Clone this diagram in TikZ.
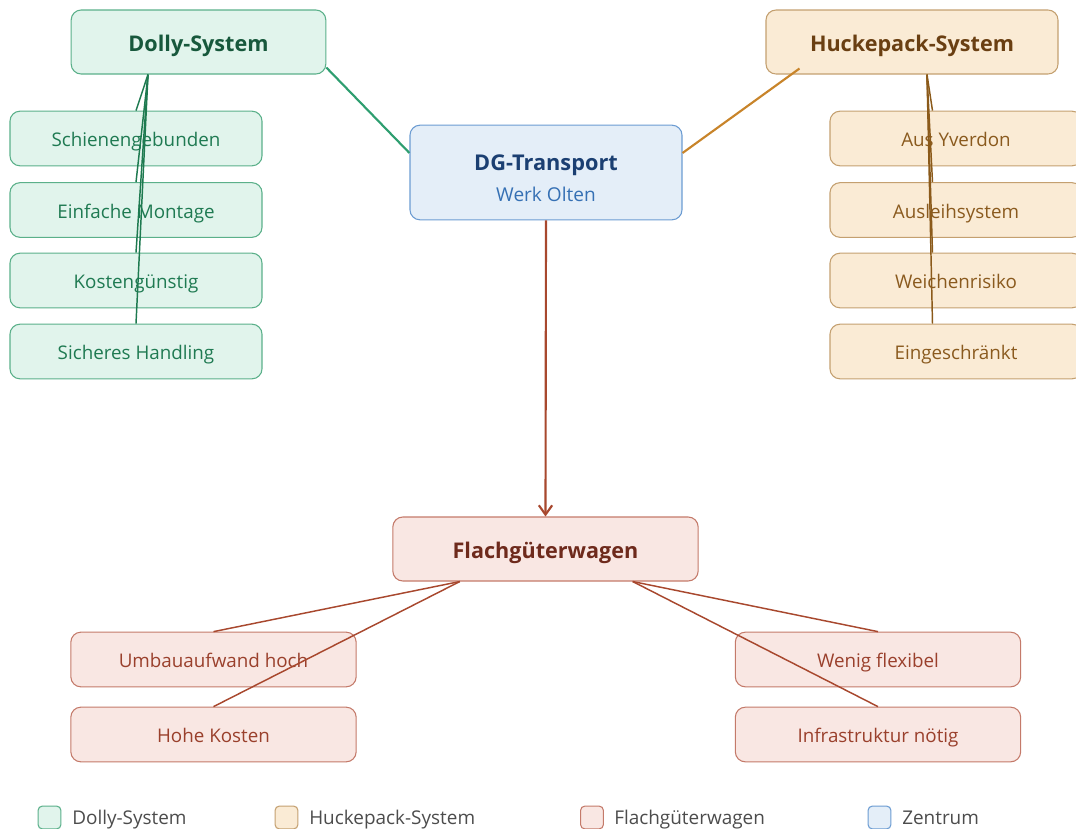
\documentclass[tikz,border=0pt]{standalone}
\usepackage{fontspec}
\setmainfont{Open Sans}
\usetikzlibrary{calc,arrows.meta}

% palette
\definecolor{dFill}{HTML}{E1F4EC}
\definecolor{dLine}{HTML}{5BB08A}
\definecolor{dText}{HTML}{1F7A52}
\definecolor{dTitle}{HTML}{17583C}
\definecolor{dEdge}{HTML}{2E9E70}
\definecolor{dSub}{HTML}{1E7A50}
\definecolor{hFill}{HTML}{FAEBD5}
\definecolor{hLine}{HTML}{C4A070}
\definecolor{hText}{HTML}{8A5A1E}
\definecolor{hTitle}{HTML}{6A3F12}
\definecolor{hEdge}{HTML}{C8842A}
\definecolor{hSub}{HTML}{8B5A1A}
\definecolor{fFill}{HTML}{F9E7E3}
\definecolor{fLine}{HTML}{C47A6A}
\definecolor{fText}{HTML}{9A402C}
\definecolor{fTitle}{HTML}{6E2A1C}
\definecolor{fEdge}{HTML}{A8482E}
\definecolor{cFill}{HTML}{E4EEF8}
\definecolor{cLine}{HTML}{6C9CD2}
\definecolor{cTitle}{HTML}{1B3F72}
\definecolor{cText}{HTML}{3570B4}

\tikzset{
  box/.style={rounded corners=7.5pt, line width=0.8pt, inner sep=0pt, align=center,
              text height=1.45em, text depth=0.2em},
  title/.style={box, minimum height=48pt, font=\bfseries\fontsize{16.2}{19}\selectfont,
              text height=1.6em},
  item/.style={box, minimum width=189pt, minimum height=41pt, font=\fontsize{14.1}{17}\selectfont},
  dolly/.style={fill=dFill, draw=dLine},
  hucke/.style={fill=hFill, draw=hLine},
  flach/.style={fill=fFill, draw=fLine},
  zentrum/.style={fill=cFill, draw=cLine},
  mainedge/.style={line width=1.6pt},
  subedge/.style={line width=1.1pt},
  swatch/.style={rounded corners=3pt, line width=0.8pt, minimum width=17pt, minimum height=17pt, inner sep=0pt},
  legendtext/.style={anchor=west, inner sep=0pt, font=\fontsize{14.2}{17}\selectfont, text=black!70,
              text height=1.15em, text depth=0.2em},
}

\begin{document}
\begin{tikzpicture}[x=0.75pt,y=-0.75pt]
\useasboundingbox (0,0) rectangle (1076,829);
\begin{scope}
\clip (0,0) rectangle (1076,829);

% centre
\node[box, zentrum, minimum width=204pt, minimum height=71pt, text height=46pt, text depth=3pt] (center) at (546,172.5)
  {{\bfseries\fontsize{16.3}{19}\selectfont\color{cTitle}DG-Transport}\\[7pt]
   {\fontsize{14.3}{17}\selectfont\color{cText}Werk Olten}};

% branch heads
\node[title, dolly, minimum width=191pt, text=dTitle] (dolly) at (198.5,42) {Dolly-System};
\node[title, hucke, minimum width=219pt, text=hTitle] (hucke) at (912,42) {Huckepack-System};
\node[title, flach, minimum width=229pt, text=fTitle] (flach) at (545.5,549) {Flachgüterwagen};

% Dolly items
\node[item, dolly, text=dText] (d1) at (136,138.5) {Schienengebunden};
\node[item, dolly, text=dText] (d2) at (136,210) {Einfache Montage};
\node[item, dolly, text=dText] (d3) at (136,280.5) {Kostengünstig};
\node[item, dolly, text=dText] (d4) at (136,351.5) {Sicheres Handling};

% Huckepack items
\node[item, hucke, text=hText] (h1) at (956,138.5) {Aus Yverdon};
\node[item, hucke, text=hText] (h2) at (956,210) {Ausleihsystem};
\node[item, hucke, text=hText] (h3) at (956,280.5) {Weichenrisiko};
\node[item, hucke, text=hText] (h4) at (956,351.5) {Eingeschränkt};

% Flachgüterwagen items
\node[item, flach, minimum width=214pt, text=fText] (f1) at (213.5,659.5) {Umbauaufwand hoch};
\node[item, flach, minimum width=214pt, text=fText] (f2) at (213.5,734.5) {Hohe Kosten};
\node[item, flach, minimum width=214pt, text=fText] (f3) at (878,659.5) {Wenig flexibel};
\node[item, flach, minimum width=214pt, text=fText] (f4) at (878,734.5) {Infrastruktur nötig};

% main edges
\draw[mainedge, dEdge] ($(dolly.south east)+(0,-7)$) -- ($(center.west)+(0,-19.5)$);
\draw[mainedge, hEdge] ($(hucke.south west)+(34,-6)$) -- ($(center.east)+(0,-19.5)$);
\draw[mainedge, fEdge, -{Straight Barb[length=7pt,width=10pt]}] (center.south) -- (flach.north);

% Dolly sub-edges
\foreach \n in {d1,d2,d3,d4}
  \draw[subedge, dSub] ($(dolly.south)+(-50.5,0)$) -- (\n.north -| 136,0);
% Huckepack sub-edges
\foreach \n in {h1,h2,h3,h4}
  \draw[subedge, hSub] ($(hucke.south)+(15,0)$) -- (\n.north -| 932.5,0);
% Flachgüterwagen sub-edges
\foreach \n in {f1,f2}
  \draw[subedge, fEdge] ($(flach.south west)+(67.5,0)$) -- (\n.north);
\foreach \n in {f3,f4}
  \draw[subedge, fEdge] ($(flach.south east)+(-66,0)$) -- (\n.north);

% legend
\node[swatch, dolly] (l1) at (49.5,817.5) {};
\node[legendtext] (t1) at (72,818) {Dolly-System};
\node[swatch, hucke] (l2) at (286.5,817.5) {};
\node[legendtext] (t2) at (309,818) {Huckepack-System};
\node[swatch, flach] (l3) at (592,817.5) {};
\node[legendtext] (t3) at (614,818) {Flachgüterwagen};
\node[swatch, zentrum] (l4) at (879.5,817.5) {};
\node[legendtext] (t4) at (902,818) {Zentrum};
\end{scope}
\end{tikzpicture}
\end{document}
